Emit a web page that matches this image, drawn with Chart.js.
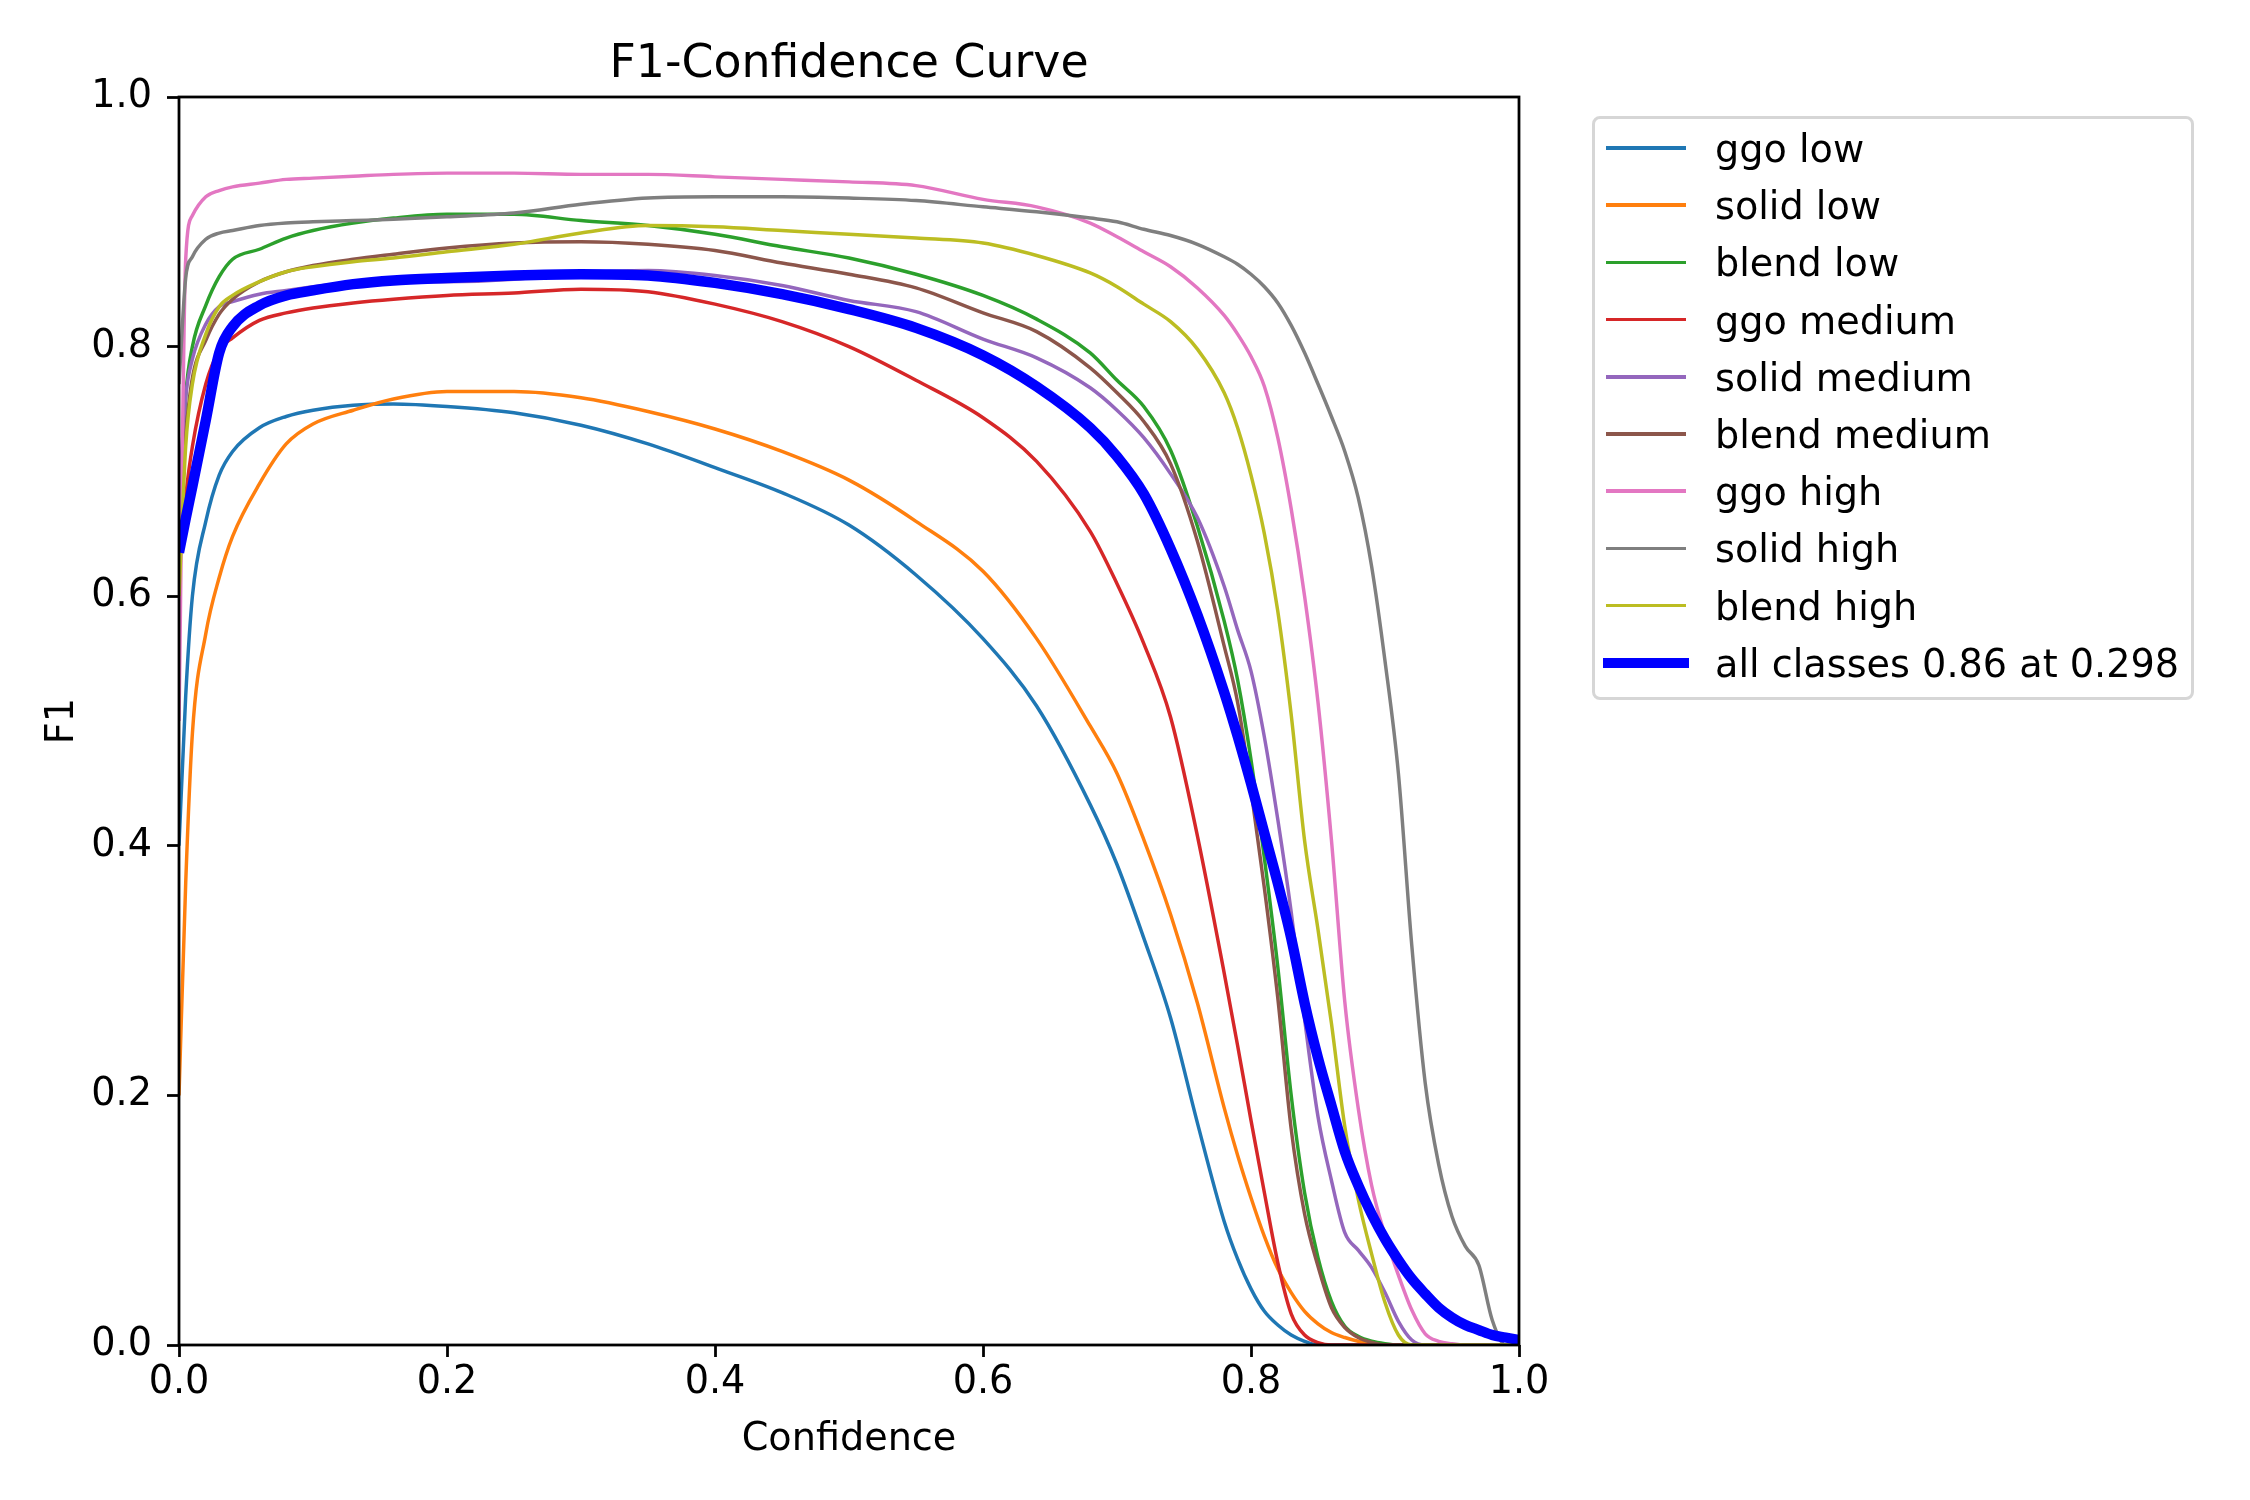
<!DOCTYPE html>
<html>
<head>
<meta charset="utf-8">
<title>F1-Confidence Curve</title>
<script src="https://cdn.jsdelivr.net/npm/chart.js@4.4.1/dist/chart.umd.min.js"></script>
<style>
  body { margin: 0; background: #fff; }
  #wrap { position: relative; width: 2250px; height: 1500px; }
  #chart { position: absolute; left: 0; top: 0; }
  #legend { position: absolute; left: 1592px; top: 116px; width: 602px; height: 584px; box-sizing: border-box;
            border: 3.5px solid rgba(204,204,204,0.8); border-radius: 8px; }
  .handle { position: absolute; }
  .label { position: absolute; font-family: "DejaVu Sans"; font-size: 38.2px; line-height: 44px;
           white-space: nowrap; color: #000; }
</style>
</head>
<body>
<div id="wrap">
  <canvas id="chart" width="2250" height="1500"></canvas>
  <div id="legend"></div>
</div>
<script>
// confidence thresholds (x) and F1 per class
var confidence = [0, 0.005, 0.01, 0.02, 0.03, 0.04, 0.06, 0.08, 0.10, 0.13, 0.16, 0.20, 0.25, 0.30, 0.35,
    0.40, 0.45, 0.50, 0.55, 0.60, 0.64, 0.68, 0.70, 0.72, 0.74, 0.76, 0.78, 0.79, 0.80, 0.81, 0.82, 0.83,
    0.84, 0.85, 0.86, 0.87, 0.88, 0.89, 0.90, 0.91, 0.92, 0.93, 0.94, 0.95, 0.96, 0.97, 0.98, 0.99, 1.0];

var ggo_low = [0.40, 0.52, 0.60, 0.66, 0.697, 0.716, 0.735, 0.744, 0.749, 0.753, 0.754, 0.752, 0.747, 0.737, 0.722,
    0.703, 0.683, 0.657, 0.617, 0.566, 0.512, 0.433, 0.385, 0.326, 0.262, 0.178, 0.099, 0.069, 0.045, 0.027, 0.016, 0.008,
    0.003, 0, 0, 0, 0, 0, 0, 0, 0, 0, 0, 0, 0, 0, 0, 0, 0];
var solid_low = [0.20, 0.37, 0.49, 0.57, 0.615, 0.648, 0.690, 0.722, 0.738, 0.749, 0.758, 0.764, 0.764, 0.759, 0.748,
    0.734, 0.716, 0.693, 0.660, 0.620, 0.566, 0.496, 0.458, 0.405, 0.345, 0.274, 0.190, 0.152, 0.118, 0.087, 0.061, 0.042,
    0.027, 0.017, 0.010, 0.006, 0.003, 0.001, 0, 0, 0, 0, 0, 0, 0, 0, 0, 0, 0];
var blend_low = [0.65, 0.76, 0.80, 0.833, 0.856, 0.870, 0.878, 0.887, 0.893, 0.899, 0.903, 0.906, 0.906, 0.901, 0.897,
    0.890, 0.880, 0.871, 0.858, 0.841, 0.822, 0.795, 0.773, 0.752, 0.717, 0.656, 0.580, 0.533, 0.469, 0.390, 0.303, 0.200,
    0.122, 0.070, 0.035, 0.015, 0.007, 0.003, 0.001, 0, 0, 0, 0, 0, 0, 0, 0, 0, 0];
var ggo_medium = [0.62, 0.68, 0.72, 0.77, 0.797, 0.807, 0.821, 0.827, 0.831, 0.835, 0.838, 0.841, 0.843, 0.846, 0.844,
    0.834, 0.820, 0.800, 0.773, 0.743, 0.708, 0.652, 0.610, 0.562, 0.503, 0.408, 0.298, 0.240, 0.180, 0.122, 0.066, 0.025,
    0.008, 0.002, 0, 0, 0, 0, 0, 0, 0, 0, 0, 0, 0, 0, 0, 0, 0];
var solid_medium = [0.68, 0.76, 0.79, 0.818, 0.832, 0.836, 0.842, 0.845, 0.848, 0.851, 0.852, 0.852, 0.854, 0.859, 0.861,
    0.857, 0.849, 0.837, 0.828, 0.806, 0.791, 0.767, 0.749, 0.727, 0.698, 0.663, 0.608, 0.573, 0.540, 0.487, 0.421, 0.347,
    0.261, 0.183, 0.132, 0.090, 0.076, 0.062, 0.042, 0.019, 0.004, 0, 0, 0, 0, 0, 0, 0, 0];
var blend_medium = [0.66, 0.73, 0.775, 0.805, 0.826, 0.838, 0.852, 0.860, 0.865, 0.870, 0.874, 0.879, 0.883, 0.884, 0.882,
    0.877, 0.867, 0.858, 0.847, 0.827, 0.812, 0.783, 0.763, 0.740, 0.706, 0.644, 0.560, 0.515, 0.445, 0.366, 0.278, 0.173,
    0.105, 0.063, 0.030, 0.014, 0.006, 0.002, 0, 0, 0, 0, 0, 0, 0, 0, 0, 0, 0];
var ggo_high = [0.50, 0.87, 0.905, 0.920, 0.925, 0.928, 0.931, 0.934, 0.935, 0.9365, 0.938, 0.939, 0.939, 0.938, 0.938,
    0.936, 0.934, 0.932, 0.929, 0.918, 0.912, 0.899, 0.888, 0.876, 0.864, 0.847, 0.825, 0.810, 0.792, 0.768, 0.727, 0.670,
    0.600, 0.515, 0.405, 0.275, 0.190, 0.128, 0.088, 0.056, 0.028, 0.009, 0.003, 0.001, 0, 0, 0, 0, 0];
var solid_high = [0.77, 0.855, 0.872, 0.886, 0.891, 0.893, 0.897, 0.899, 0.900, 0.901, 0.902, 0.904, 0.907, 0.914, 0.919,
    0.920, 0.920, 0.919, 0.917, 0.912, 0.908, 0.903, 0.900, 0.894, 0.889, 0.882, 0.872, 0.866, 0.858, 0.848, 0.835, 0.817,
    0.795, 0.770, 0.744, 0.716, 0.679, 0.624, 0.548, 0.458, 0.320, 0.210, 0.145, 0.103, 0.079, 0.064, 0.020, 0, 0];
var blend_high = [0.60, 0.72, 0.77, 0.81, 0.832, 0.841, 0.852, 0.860, 0.864, 0.868, 0.871, 0.876, 0.882, 0.891, 0.897,
    0.896, 0.893, 0.890, 0.887, 0.883, 0.873, 0.859, 0.848, 0.834, 0.820, 0.798, 0.763, 0.735, 0.697, 0.650, 0.588, 0.505,
    0.404, 0.333, 0.258, 0.175, 0.117, 0.073, 0.034, 0.008, 0, 0, 0, 0, 0, 0, 0, 0, 0];
var all_classes = [0.635, 0.662, 0.688, 0.741, 0.795, 0.816, 0.833, 0.841, 0.845, 0.850, 0.853, 0.855, 0.857, 0.858, 0.857,
    0.851, 0.842, 0.830, 0.815, 0.793, 0.768, 0.735, 0.712, 0.682, 0.638, 0.585, 0.523, 0.488, 0.450, 0.410, 0.370, 0.326,
    0.274, 0.230, 0.192, 0.155, 0.128, 0.105, 0.085, 0.068, 0.053, 0.041, 0.030, 0.022, 0.016, 0.012, 0.008, 0.006, 0.004];

var class_names = ['ggo low', 'solid low', 'blend low', 'ggo medium', 'solid medium', 'blend medium',
    'ggo high', 'solid high', 'blend high', 'all classes 0.86 at 0.298'];
var series = [ggo_low, solid_low, blend_low, ggo_medium, solid_medium, blend_medium,
    ggo_high, solid_high, blend_high, all_classes];
var colors = ['#1f77b4', '#ff7f0e', '#2ca02c', '#d62728', '#9467bd', '#8c564b',
    '#e377c2', '#7f7f7f', '#bcbd22', '#0000ff'];

var THIN = 3.47, THICK = 10.4;
var FONT = 'DejaVu Sans';
var FONT_SIZE = 38.2;

var datasets = series.map(function (values, i) {
    return {
        label: class_names[i],
        data: confidence.map(function (c, k) { return {x: c, y: values[k]}; }),
        borderColor: colors[i],
        borderWidth: i === 9 ? THICK : THIN,
        borderJoinStyle: 'round',
        cubicInterpolationMode: 'monotone',
        pointRadius: 0,
        fill: false,
        clip: 0,
        order: 10 - i
    };
});

var frame_title = {
    id: 'frame_title',
    afterDraw: function (chart) {
        var ctx = chart.ctx, a = chart.chartArea;
        ctx.save();
        ctx.strokeStyle = '#000';
        ctx.lineWidth = 2.78;
        ctx.strokeRect(a.left, a.top, a.right - a.left, a.bottom - a.top);
        ctx.fillStyle = '#000';
        ctx.font = '45.8px "' + FONT + '"';
        ctx.textAlign = 'center';
        ctx.textBaseline = 'alphabetic';
        ctx.fillText('F1-Confidence Curve', (a.left + a.right) / 2, 77);
        ctx.restore();
    }
};

function axis(title, title_pad, tick_pad, fit) {
    return {
        type: 'linear',
        min: 0,
        max: 1,
        ticks: {
            stepSize: 0.2,
            autoSkip: false,
            maxRotation: 0,
            padding: tick_pad,
            color: '#000',
            font: {family: FONT, size: FONT_SIZE},
            callback: function (v) { return v.toFixed(1); }
        },
        grid: {
            drawOnChartArea: false,
            drawTicks: true,
            tickLength: 12,
            tickWidth: 2.78,
            tickColor: '#000'
        },
        border: {display: false},
        title: {
            display: true,
            text: title,
            color: '#000',
            font: {family: FONT, size: FONT_SIZE},
            padding: title_pad
        },
        afterFit: fit
    };
}

new Chart(document.getElementById('chart'), {
    type: 'line',
    data: {datasets: datasets},
    options: {
        responsive: false,
        animation: false,
        devicePixelRatio: 1,
        layout: {padding: {left: 0, top: 97, right: 731, bottom: 0}},
        plugins: {
            legend: {display: false},
            tooltip: {enabled: false},
            title: {display: false}
        },
        scales: {
            x: axis('Confidence', {top: 0, bottom: 37}, 3, function (s) { s.height = 155; }),
            y: axis('F1', {top: 40, bottom: 0}, 15, function (s) { s.width = 179; })
        }
    },
    plugins: [frame_title]
});

// legend box drawn as html, one row per series
var wrap = document.getElementById('wrap');
class_names.forEach(function (name, i) {
    var cy = 148 + i * 57.2;
    var w = i === 9 ? THICK : THIN;
    var h = document.createElement('div');
    h.className = 'handle';
    h.style.left = (i === 9 ? 1603 : 1606) + 'px';
    h.style.width = (i === 9 ? 86 : 80) + 'px';
    h.style.top = (cy - w / 2) + 'px';
    h.style.height = w + 'px';
    h.style.background = colors[i];
    wrap.appendChild(h);
    var t = document.createElement('div');
    t.className = 'label';
    t.style.left = '1715px';
    t.style.top = (cy - 21) + 'px';
    t.textContent = name;
    wrap.appendChild(t);
});
</script>
</body>
</html>
